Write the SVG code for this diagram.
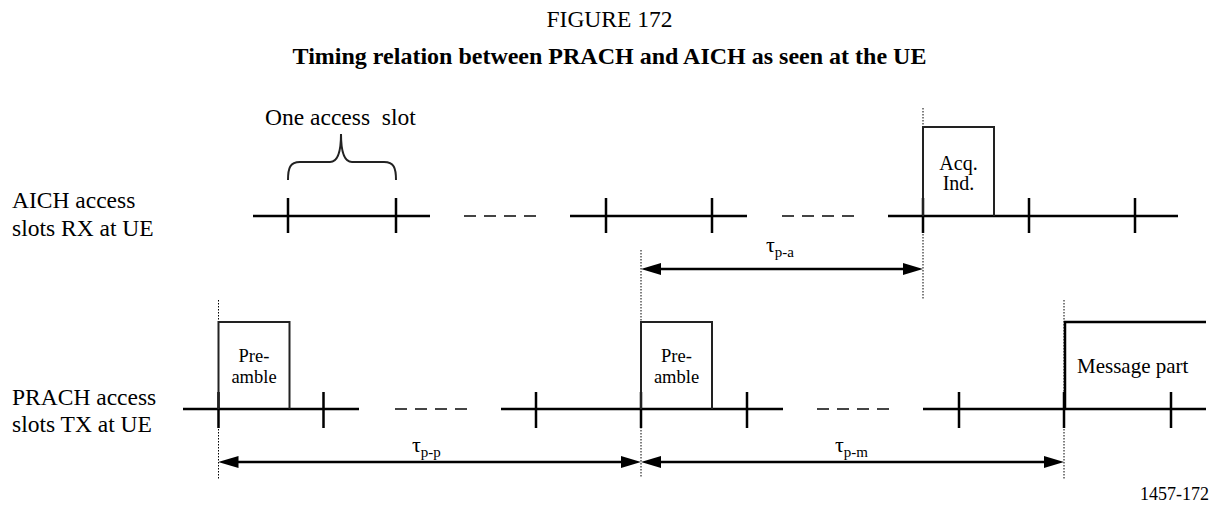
<svg xmlns="http://www.w3.org/2000/svg" width="1218" height="505" viewBox="0 0 1218 505">
<style>
.t{font-family:"Liberation Serif","Times New Roman",serif;fill:#000}
.ln{stroke:#000;stroke-width:2.5;fill:none}
.tk{stroke:#000;stroke-width:2.5;fill:none}
.dash{stroke:#444;stroke-width:2;stroke-dasharray:12 8;fill:none}
.dot{stroke:#000;stroke-width:1;stroke-dasharray:1.5 1.5;fill:none}
.box{stroke:#222;stroke-width:2;fill:none}
.arr{stroke:#000;stroke-width:2.5;fill:none;marker-start:url(#ah);marker-end:url(#ah)}
</style>
<defs>
<marker id="ah" viewBox="0 0 20 12" refX="2" refY="6" markerWidth="20" markerHeight="12" markerUnits="userSpaceOnUse" orient="auto-start-reverse"><path d="M0,0 L20,6 L0,12 z" fill="#000"/></marker>
</defs>

<g id="titles">
<text class="t" x="609.5" y="27" font-size="23.5" text-anchor="middle">FIGURE 172</text>
<text class="t" x="609.5" y="64" font-size="24" font-weight="bold" text-anchor="middle">Timing relation between PRACH and AICH as seen at the UE</text>
</g>

<g id="row-labels">
<text class="t" x="12" y="208" font-size="23.5">AICH access</text>
<text class="t" x="12" y="236" font-size="23.5">slots RX at UE</text>
<text class="t" x="12" y="405" font-size="23.5">PRACH access</text>
<text class="t" x="12" y="432" font-size="23.5">slots TX at UE</text>
</g>

<g id="slot-brace">
<text class="t" x="265" y="125" font-size="23.5" style="white-space:pre">One access  slot</text>
<path class="box" stroke="#000" d="M288,180 C288,168 290,162 300,162 L330,162 C338,162 341,152 341,134 C341,152 344,162 352,162 L384,162 C394,162 396,168 396,180"/>
</g>

<g id="dotted-guides">
<line class="dot" x1="923" y1="108" x2="923" y2="300"/>
<line class="dot" x1="641" y1="250" x2="641" y2="477"/>
<line class="dot" x1="218.5" y1="300" x2="218.5" y2="480"/>
<line class="dot" x1="1064" y1="300" x2="1064" y2="480"/>
</g>

<g id="aich-timeline">
<path class="ln" d="M253,216 H430 M570,216 H747 M888,216 H1178"/>
<path class="dash" d="M464,216 H536 M782,216 H854"/>
<path class="tk" d="M288,198 V233 M396,198 V233 M606,198 V233 M712,198 V233 M923,198 V233 M1029,198 V233 M1135,198 V233"/>
</g>

<g id="acq-ind">
<path class="box" d="M923,216 V127 H994 V216"/>
<text class="t" x="958.5" y="170" font-size="20" text-anchor="middle">Acq.</text>
<text class="t" x="958.5" y="190" font-size="20" text-anchor="middle">Ind.</text>
</g>

<g id="prach-timeline">
<path class="ln" d="M183,409 H359 M501,409 H783 M923,409 H1206"/>
<path class="dash" d="M395,409 H467 M817,409 H889"/>
<path class="tk" d="M218.5,392 V428 M323.5,392 V428 M536,392 V428 M641,392 V428 M747,392 V428 M959,392 V428 M1064,392 V428 M1171,392 V428"/>
</g>

<g id="preamble-1">
<path class="box" d="M218.5,409 V322 H289.5 V409"/>
<text class="t" x="254" y="362" font-size="18.5" text-anchor="middle">Pre-</text>
<text class="t" x="254" y="383" font-size="18.5" text-anchor="middle">amble</text>
</g>

<g id="preamble-2">
<path class="box" d="M641,409 V322 H712 V409"/>
<text class="t" x="676.5" y="362" font-size="18.5" text-anchor="middle">Pre-</text>
<text class="t" x="676.5" y="383" font-size="18.5" text-anchor="middle">amble</text>
</g>

<g id="message-part">
<path class="ln" d="M1065,409 V322 H1206"/>
<text class="t" x="1077" y="373" font-size="21">Message part</text>
</g>

<g id="connectors">
<line class="arr" x1="659" y1="269" x2="905" y2="269"/>
<line class="arr" x1="236.5" y1="462" x2="623" y2="462"/>
<line class="arr" x1="659" y1="462" x2="1046" y2="462"/>
</g>

<g id="interval-labels">
<text class="t" x="766" y="252" font-size="22">τ<tspan font-size="15" dy="5">p-a</tspan></text>
<text class="t" x="412" y="452" font-size="22">τ<tspan font-size="15" dy="5">p-p</tspan></text>
<text class="t" x="835" y="452" font-size="22">τ<tspan font-size="15" dy="5">p-m</tspan></text>
</g>

<text class="t" x="1209" y="500" font-size="18" text-anchor="end">1457-172</text>
</svg>
